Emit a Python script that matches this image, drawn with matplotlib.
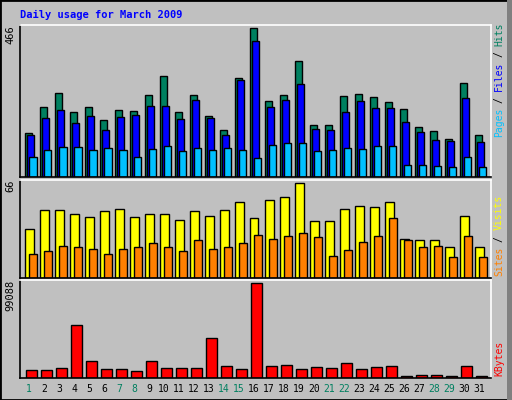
import matplotlib
matplotlib.use('Agg')
import matplotlib.pyplot as plt
import numpy as np

days = list(range(1, 32))
weekends = [1, 7, 8, 14, 15, 21, 22, 28, 29]

hits = [137, 219, 264, 203, 219, 178, 210, 207, 257, 317, 203, 257, 191, 147, 311, 466,
        238, 257, 362, 162, 162, 254, 260, 251, 235, 213, 156, 143, 118, 295, 131]
files = [131, 184, 210, 169, 191, 147, 188, 194, 222, 222, 181, 241, 184, 131, 302, 425,
         219, 241, 292, 150, 147, 203, 238, 216, 216, 172, 140, 115, 112, 248, 109]
pages = [61, 83, 93, 93, 83, 90, 83, 61, 86, 96, 80, 90, 83, 90, 83, 58,
         99, 105, 105, 80, 83, 90, 86, 96, 96, 39, 39, 33, 30, 64, 30]
visits = [34.5, 47.4, 47.4, 44.6, 42.4, 46.7, 48.1, 42.4, 44.6, 44.6, 40.3, 46.7, 43.1, 47.4, 53.1, 41.7,
          54.6, 56.7, 66, 39.6, 39.6, 48.1, 50.3, 49.6, 53.1, 27.4, 26.7, 26.7, 21.7, 43.1, 21.7]
sites = [16.7, 18.8, 22.4, 21.7, 20.3, 16.7, 20.3, 21.7, 24.5, 21.7, 18.8, 26.7, 20.3, 21.7, 24.5, 30.3,
         27.4, 29.5, 31.7, 28.8, 15.2, 19.5, 25.3, 29.5, 41.7, 26.7, 21.7, 22.4, 14.5, 29.5, 14.5]
kbytes = [7956, 7956, 10126, 55690, 17720, 9041, 9041, 6871, 17720, 10126, 10126, 10126, 41585, 12296, 9041, 99088,
          12296, 13380, 9041, 11211, 10126, 15550, 9041, 11211, 12296, 2532, 3616, 3616, 2532, 12296, 2532]

BG = '#C0C0C0'
W, H = 512, 400
X0, X1 = 0.5, 0.5 + 471 / 15.0
fig = plt.figure(figsize=(W / 100, H / 100), dpi=100, facecolor=BG)
fig.patches.append(plt.Rectangle((0, 0), 1, 1, transform=fig.transFigure, fill=False,
                                 edgecolor='black', linewidth=2))
fig.patches.append(plt.Rectangle((507 / W, 0), 5 / W, 1, transform=fig.transFigure,
                                 facecolor='#808080', edgecolor='none'))

def panel(top, bottom):
    ax = fig.add_axes([20 / W, 1 - bottom / H, 471 / W, (bottom - top) / H])
    ax.set_facecolor(BG)
    ax.set_xlim(X0, X1)
    ax.set_xticks([])
    ax.set_yticks([])
    for s in ax.spines.values():
        s.set_linewidth(1.2)
    ax.spines['top'].set_color('white')
    ax.spines['right'].set_color('white')
    return ax

x = np.array(days)
ek = dict(edgecolor='black', linewidth=1, align='edge')

ax1 = panel(25, 177)
ax1.set_ylim(0, 466 * 1.02)
ax1.bar(x - 0.17, hits, 0.46, color='#008060', **ek)
ax1.bar(x - 0.04, files, 0.5, color='#0000FF', **ek)
ax1.bar(x + 0.11, pages, 0.49, color='#00C0FF', **ek)

ax2 = panel(180, 278)
ax2.set_ylim(0, 66 * 1.035)
ax2.bar(x - 0.17, visits, 0.57, color='#FFFF00', **ek)
ax2.bar(x + 0.11, sites, 0.53, color='#FF8000', **ek)

ax3 = panel(280, 378)
ax3.set_ylim(0, 99088 * 1.035)
ax3.bar(x - 0.1, kbytes, 0.7, color='#FF0000', **ek)

mono = 'DejaVu Sans Mono'
fig.text(20 / W, 1 - 15 / H, 'Daily usage for March 2009', color='#0000FF',
         family=mono, weight='bold', fontsize=7.5, va='center')
for lab, y in [('466', 25), ('66', 180), ('99088', 280)]:
    fig.text(10 / W, 1 - y / H, lab, rotation=90, family=mono, fontsize=7.5,
             ha='center', va='top')
for d in days:
    fig.text((20 + (d + 0.1 - X0) * 15.0) / W, 1 - 389 / H, str(d), family=mono, fontsize=7,
             ha='center', va='center', color='#008060' if d in weekends else 'black')

def side_label(parts, y_bottom):
    y = y_bottom
    for txt, col in parts:
        txt_draw = txt.replace(' ', '')
        pad = 5.7 if txt.startswith(' ') else 0
        y -= pad
        fig.text(499 / W, 1 - y / H, txt_draw, rotation=90, family=mono, fontsize=7,
                 color=col, ha='center', va='bottom')
        y -= len(txt_draw) * 5.7 + pad

side_label([('Pages', '#00C0FF'), (' / ', 'black'), ('Files', '#0000FF'),
            (' / ', 'black'), ('Hits', '#008060')], 137)
side_label([('Sites', '#FF8000'), (' / ', 'black'), ('Visits', '#FFFF00')], 276)
side_label([('KBytes', '#FF0000')], 376)

fig.savefig('out.png', dpi=100, facecolor=BG)
